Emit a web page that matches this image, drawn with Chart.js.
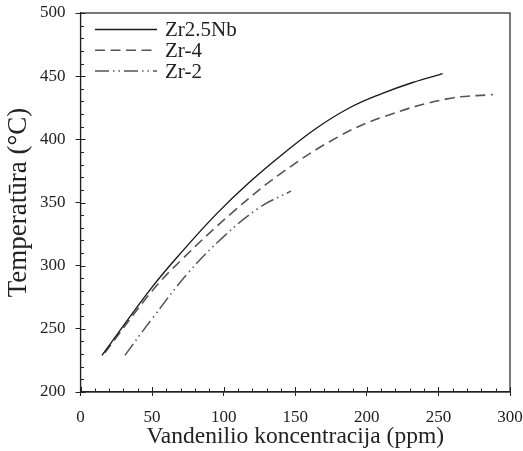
<!DOCTYPE html>
<html>
<head>
<meta charset="utf-8">
<script src="https://cdn.jsdelivr.net/npm/chart.js@4"></script>
<style>
  html, body { margin: 0; padding: 0; background: #fff; }
  #wrap { width: 523px; height: 451px; }
</style>
</head>
<body>
<div id="wrap"><canvas id="tempChart"></canvas></div>
<script>
// curve values
const seriesNames = ['Zr2.5Nb', 'Zr-4', 'Zr-2'];
const zrNbX = [15, 50, 72, 95, 118, 142, 165, 188, 210, 232, 253];
const zrNbY = [229, 283, 312.5, 341, 366, 389, 409, 425, 436, 445, 452];
const zr4X = [17, 50, 70, 105, 140, 180, 212, 256, 288];
const zr4Y = [231, 280, 304, 341, 373, 402, 418, 432, 435.5];
const zr2X = [31, 50, 75, 100, 125, 147];
const zr2Y = [229, 258, 294, 323, 346, 359];
const xTickVals = [0, 50, 100, 150, 200, 250, 300];
const yTickVals = [200, 250, 300, 350, 400, 450, 500];

const serif = 'Liberation Serif';
const ink = '#222';

function pairs(xs, ys) {
    return xs.map((x, i) => ({ x: x, y: ys[i] }));
}

// frame, inner minor ticks and legend
const decor = {
    id: 'decor',
    afterDraw(chart) {
        const c = chart.ctx;
        const a = chart.chartArea;
        const xs = chart.scales.x, ys = chart.scales.y;
        c.save();
        c.strokeStyle = ink;
        c.lineWidth = 1.2;
        c.strokeRect(a.left, a.top, a.right - a.left, a.bottom - a.top);
        c.lineWidth = 1;
        c.beginPath();
        for (let v = 0; v <= 300; v += 10) {
            const px = Math.round(xs.getPixelForValue(v)) + 0.5;
            const len = v % 50 === 0 ? 5 : 3.5;
            c.moveTo(px, a.bottom);
            c.lineTo(px, a.bottom - len);
        }
        for (let v = 200; v <= 500; v += 10) {
            const py = Math.round(ys.getPixelForValue(v)) + 0.5;
            const len = v % 50 === 0 ? 5 : 3.5;
            c.moveTo(a.left, py);
            c.lineTo(a.left + len, py);
        }
        c.stroke();

        // legend
        c.font = '21px "' + serif + '"';
        c.textBaseline = 'middle';
        chart.data.datasets.forEach((ds, i) => {
            const y = 29.5 + i * 20.8;
            c.strokeStyle = ds.borderColor;
            c.lineWidth = ds.borderWidth;
            c.setLineDash(ds.borderDash || []);
            c.beginPath();
            c.moveTo(95, y);
            c.lineTo(157, y);
            c.stroke();
            c.setLineDash([]);
            c.fillStyle = ink;
            c.fillText(ds.label, 165, y + 1);
        });
        c.restore();
    }
};

const ctx = document.getElementById('tempChart').getContext('2d');
const tempChart = new Chart(ctx, {
    type: 'line',
    data: {
        datasets: [{
            label: seriesNames[0],
            data: pairs(zrNbX, zrNbY),
            borderColor: '#1a1a1a',
            borderWidth: 1.4,
            pointRadius: 0,
            tension: 0.4,
            fill: false
        }, {
            label: seriesNames[1],
            data: pairs(zr4X, zr4Y),
            borderColor: '#555',
            borderWidth: 1.6,
            borderDash: [10, 5.5],
            pointRadius: 0,
            tension: 0.4,
            fill: false
        }, {
            label: seriesNames[2],
            data: pairs(zr2X, zr2Y),
            borderColor: '#555',
            borderWidth: 1.5,
            borderDash: [14, 4, 1.5, 4, 1.5, 4],
            pointRadius: 0,
            tension: 0.4,
            fill: false
        }]
    },
    options: {
        responsive: true,
        maintainAspectRatio: false,
        animation: false,
        layout: { padding: { top: 13, right: 13, left: 0, bottom: 0 } },
        plugins: {
            legend: { display: false },
            tooltip: { enabled: false }
        },
        scales: {
            x: {
                type: 'linear',
                min: 0,
                max: 300,
                afterBuildTicks: (s) => { s.ticks = xTickVals.map(v => ({ value: v })); },
                afterFit: (s) => { s.height = 59; s.paddingRight = 0; s.paddingLeft = 0; },
                ticks: { font: { family: serif, size: 17 }, color: ink, padding: 11 },
                grid: { drawOnChartArea: false, tickLength: 4, color: ink },
                border: { color: ink, width: 1.2 },
                title: {
                    display: true,
                    text: 'Vandenilio koncentracija (ppm)',
                    font: { family: serif, size: 23.5 },
                    color: ink,
                    padding: { top: 0, bottom: 0 }
                }
            },
            y: {
                min: 200,
                max: 500,
                afterBuildTicks: (s) => { s.ticks = yTickVals.map(v => ({ value: v })); },
                afterFit: (s) => { s.width = 80.5; s.paddingTop = 0; },
                ticks: { font: { family: serif, size: 17 }, color: ink, padding: 10 },
                grid: { drawOnChartArea: false, tickLength: 5, color: ink },
                border: { color: ink, width: 1.2 },
                title: {
                    display: true,
                    text: 'Temperatūra (°C)',
                    font: { family: serif, size: 27 },
                    color: ink,
                    padding: { top: 3, bottom: 0 }
                }
            }
        }
    },
    plugins: [decor]
});
</script>
</body>
</html>
